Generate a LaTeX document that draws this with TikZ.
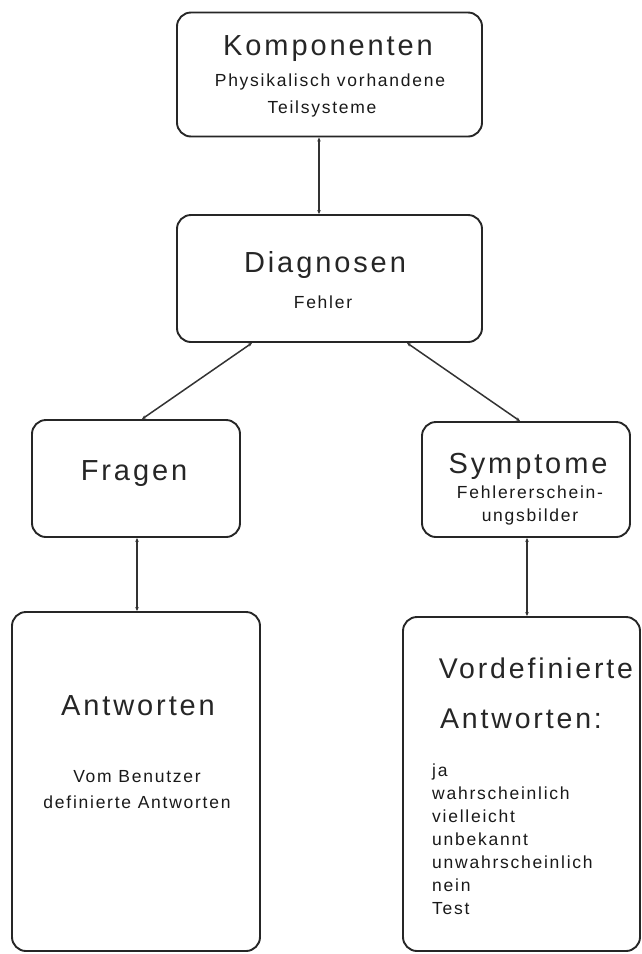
\documentclass[tikz,border=0pt]{standalone}
\usepackage{fontspec}
\setmainfont{Liberation Sans}
\newfontfamily\titlefont[LetterSpace=10]{Liberation Sans}
\newfontfamily\notefont[LetterSpace=10]{Liberation Sans}
\usetikzlibrary{arrows.meta}

\begin{document}
\begin{tikzpicture}[x=1pt,y=-1pt,
  box/.style={draw=black!85, line width=1.9pt, rounded corners=14pt, inner sep=0pt},
  title/.style={font=\titlefont\fontsize{29}{32}\selectfont, text=black!85, inner sep=0pt, anchor=base},
  note/.style={font=\notefont\fontsize{17.5}{23}\selectfont, text=black!90, inner sep=0pt, anchor=base},
  link/.style={draw=black!80, line width=1.1pt,
    {Stealth[length=4pt,width=3.5pt]}-{Stealth[length=4pt,width=3.5pt]}},
]
\useasboundingbox (0,0) rectangle (641,954);

% boxes
\node[box, minimum width=305pt, minimum height=124pt] (komp) at (329.5,74.5) {};
\node[box, minimum width=305pt, minimum height=127pt] (diag) at (329.5,278.5) {};
\node[box, minimum width=208pt, minimum height=117pt] (frag) at (136,478.5) {};
\node[box, minimum width=208pt, minimum height=115pt] (symp) at (526,479.5) {};
\node[box, minimum width=248pt, minimum height=339pt] (antw) at (136,781.5) {};
\node[box, minimum width=237pt, minimum height=334pt] (vord) at (521.5,784) {};

% texts
\node[title] (tkomp) at (328,55) {Komponenten};
\node[note] (nkomp1) at (330,86) {Physikalisch vorhandene};
\node[note] (nkomp2) at (322,113) {Teilsysteme};

\node[title] (tdiag) at (325,272) {Diagnosen};
\node[note] (ndiag) at (323,308) {Fehler};

\node[title] (tfrag) at (134,480) {Fragen};

\node[title] (tsymp) at (528,473) {Symptome};
\node[note] (nsymp1) at (530,498) {Fehlererschein-};
\node[note] (nsymp2) at (530,521) {ungsbilder};

\node[title] (tantw) at (138,715) {Antworten};
\node[note] (nantw1) at (137,782) {Vom Benutzer};
\node[note] (nantw2) at (137,808) {definierte Antworten};

\node[title, font=\titlefont\fontsize{28.5}{32}\selectfont] (tvord1) at (536,678) {Vordefinierte};
\node[title, font=\titlefont\fontsize{28.5}{32}\selectfont] (tvord2) at (521,728) {Antworten:};
\foreach \w [count=\i] in {ja,wahrscheinlich,vielleicht,unbekannt,unwahrscheinlich,nein,Test}
  \node[note, anchor=base west] (opt\i) at (432,{776+23*(\i-1)}) {\w};

% connectors
\draw[link] ([xshift=-10.5pt]komp.south) -- ([xshift=-10.5pt]diag.north);
\draw[link, line width=1.5pt] ([xshift=-77.5pt]diag.south) -- ([xshift=6pt]frag.north);
\draw[link, line width=1.5pt] ([xshift=77.5pt]diag.south) -- ([xshift=-6pt]symp.north);
\draw[link] ([xshift=1pt]frag.south) -- ([xshift=1pt]antw.north);
\draw[link] ([xshift=1pt]symp.south) -- ([xshift=5.5pt]vord.north);
\end{tikzpicture}
\end{document}
